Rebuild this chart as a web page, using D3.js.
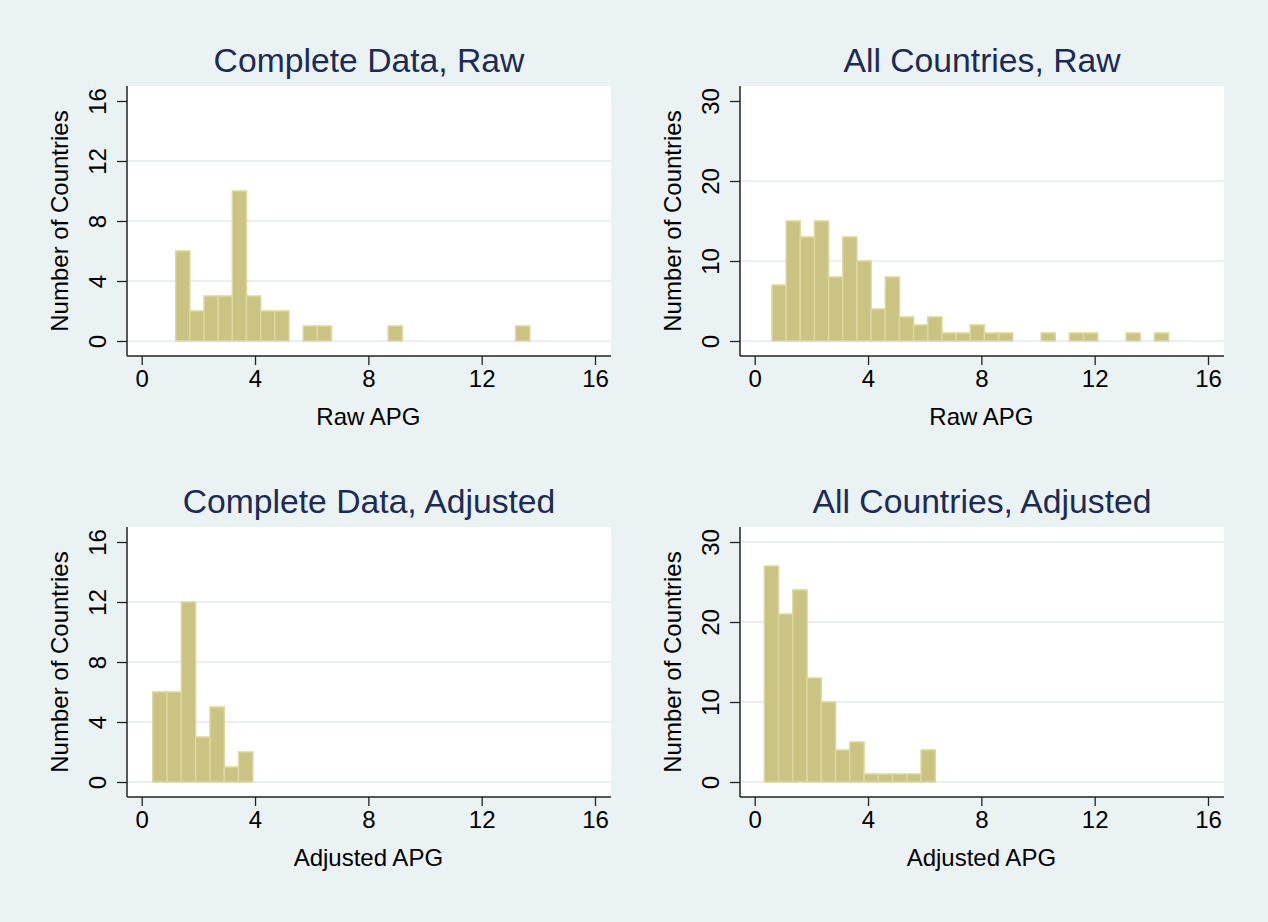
<!DOCTYPE html>
<html>
<head>
<meta charset="utf-8">
<script src="https://cdn.jsdelivr.net/npm/d3@7"></script>
<style>
  html, body { margin: 0; padding: 0; background: #eaf2f3; }
  text { font-family: "Liberation Sans", Arial, sans-serif; }
</style>
</head>
<body>
<div id="chart"></div>
<script>
// panel texts
var panelTitles = ["Complete Data, Raw", "All Countries, Raw", "Complete Data, Adjusted", "All Countries, Adjusted"];
var xTitles = ["Raw APG", "Raw APG", "Adjusted APG", "Adjusted APG"];
var yTitle = "Number of Countries";

// tick values
var xTicks = [0, 4, 8, 12, 16];
var yTicksComplete = [0, 4, 8, 12, 16];
var yTicksAll = [0, 10, 20, 30];

// histogram bins: first bin start and bin width (APG units)
var binStarts = [1.2, 0.61, 0.39, 0.34];
var binWidths = [0.5, 0.5, 0.505, 0.503];

// counts per bin
var countsCompleteRaw = [6, 2, 3, 3, 10, 3, 2, 2, 0, 1, 1, 0, 0, 0, 0, 1, 0, 0, 0, 0, 0, 0, 0, 0, 1];
var countsAllRaw = [7, 15, 13, 15, 8, 13, 10, 4, 8, 3, 2, 3, 1, 1, 2, 1, 1, 0, 0, 1, 0, 1, 1, 0, 0, 1, 0, 1];
var countsCompleteAdj = [6, 6, 12, 3, 5, 1, 2];
var countsAllAdj = [27, 21, 24, 13, 10, 4, 5, 1, 1, 1, 1, 4];

var panelCounts = [countsCompleteRaw, countsAllRaw, countsCompleteAdj, countsAllAdj];
var panelYTicks = [yTicksComplete, yTicksAll, yTicksComplete, yTicksAll];
// only the last panel has a gridline at its top tick
var topGrid = [false, false, false, true];

var svgWidth = 1268;
var svgHeight = 922;

var svg = d3.select("#chart")
  .append("svg")
  .attr("width", svgWidth)
  .attr("height", svgHeight);

svg.append("rect")
  .attr("width", svgWidth)
  .attr("height", svgHeight)
  .attr("fill", "#eaf2f3");

var plotW = 484;
var plotH = 270;
var lefts = [127, 740];
var tops = [86, 527];

panelTitles.forEach(function(title, i) {
  var left = lefts[i % 2];
  var top = tops[Math.floor(i / 2)];
  var counts = panelCounts[i];
  var yTicks = panelYTicks[i];

  var g = svg.append("g")
    .attr("transform", `translate(${left}, ${top})`);

  // plot region
  g.append("rect")
    .attr("width", plotW)
    .attr("height", plotH)
    .attr("fill", "white");

  var x = d3.scaleLinear()
    .domain([0, 16])
    .range([14.7, 468]);

  var y = d3.scaleLinear()
    .domain([0, d3.max(yTicks)])
    .range([255, 15]);

  // gridlines
  var gridVals = topGrid[i] ? yTicks : yTicks.slice(0, -1);
  g.selectAll(".grid")
    .data(gridVals)
    .enter()
    .append("line")
    .attr("x1", 0)
    .attr("x2", plotW)
    .attr("y1", d => y(d))
    .attr("y2", d => y(d))
    .attr("stroke", "#e8f0f2")
    .attr("stroke-width", 2);

  // bars
  var bins = counts.map(function(c, k) {
    return { x0: binStarts[i] + k * binWidths[i], x1: binStarts[i] + (k + 1) * binWidths[i], n: c };
  }).filter(d => d.n > 0);

  g.selectAll(".bar")
    .data(bins)
    .enter()
    .append("rect")
    .attr("x", d => x(d.x0))
    .attr("y", d => y(d.n))
    .attr("width", d => x(d.x1) - x(d.x0))
    .attr("height", d => y(0) - y(d.n))
    .attr("fill", "#cac382")
    .attr("stroke", "#dcd7a3")
    .attr("stroke-width", 1.5);

  // x axis
  var xAxis = g.append("g")
    .attr("transform", `translate(0, ${plotH})`)
    .call(d3.axisBottom(x).tickValues(xTicks).tickSize(9).tickSizeOuter(0));
  xAxis.select(".domain").remove();
  xAxis.selectAll("line").attr("stroke", "#222").attr("stroke-width", 1.3);
  xAxis.selectAll("text")
    .attr("y", 31)
    .attr("dy", 0)
    .attr("font-size", "24px")
    .attr("fill", "black")
    .attr("font-family", "Liberation Sans, Arial, sans-serif");

  // y axis, labels turned on their side
  var yAxis = g.append("g")
    .call(d3.axisLeft(y).tickValues(yTicks).tickSize(10).tickSizeOuter(0));
  yAxis.select(".domain").remove();
  yAxis.selectAll("line").attr("stroke", "#222").attr("stroke-width", 1.3);
  yAxis.selectAll("text")
    .attr("transform", "rotate(-90)")
    .attr("x", 0)
    .attr("y", -21)
    .attr("dy", 0)
    .attr("text-anchor", "middle")
    .attr("font-size", "24px")
    .attr("fill", "black")
    .attr("font-family", "Liberation Sans, Arial, sans-serif");

  // axis lines along the plot edges
  g.append("line")
    .attr("x1", 0).attr("x2", plotW)
    .attr("y1", plotH).attr("y2", plotH)
    .attr("stroke", "#222").attr("stroke-width", 1.5);
  g.append("line")
    .attr("x1", 0).attr("x2", 0)
    .attr("y1", 0).attr("y2", plotH)
    .attr("stroke", "#222").attr("stroke-width", 1.5);

  // titles
  g.append("text")
    .attr("x", plotW / 2)
    .attr("y", -14)
    .attr("text-anchor", "middle")
    .attr("font-size", "33.7px")
    .attr("fill", "#1c2b55")
    .text(title);

  g.append("text")
    .attr("x", x(8))
    .attr("y", plotH + 69)
    .attr("text-anchor", "middle")
    .attr("font-size", "24px")
    .attr("fill", "black")
    .text(xTitles[i]);

  g.append("text")
    .attr("transform", "rotate(-90)")
    .attr("x", -plotH / 2)
    .attr("y", -59)
    .attr("text-anchor", "middle")
    .attr("font-size", "24px")
    .attr("fill", "black")
    .text(yTitle);
});
</script>
</body>
</html>
